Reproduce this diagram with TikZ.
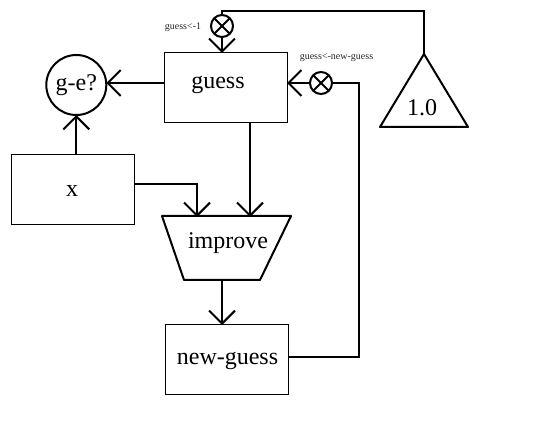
\documentclass[tikz,border=0pt]{standalone}
\usepackage{fontspec}
\setmainfont{Liberation Serif}
\usetikzlibrary{arrows.meta, positioning}

\begin{document}
\begin{tikzpicture}[x=1pt, y=-1pt, >={Straight Barb[length=13pt, width=26pt, line width=2pt]}]

\tikzset{
    store/.style={
        draw=black, line width=1pt, rectangle, inner sep=0pt,
        minimum width=123pt, minimum height=70pt
    },
    bigtext/.style={
        font=\fontsize{24}{28}\selectfont, text=black
    },
    smalltext/.style={
        font=\fontsize{10}{12}\selectfont, text=black!85, inner sep=0pt
    },
    wire/.style={
        draw=black, line width=2pt
    },
    arrowwire/.style={
        wire, ->, shorten >=-1pt
    },
    valve/.style={
        draw=black, line width=2pt, circle, inner sep=0pt, minimum size=22pt,
        path picture={
            \draw[line width=2pt] (path picture bounding box.north west) -- (path picture bounding box.south east);
            \draw[line width=2pt] (path picture bounding box.north east) -- (path picture bounding box.south west);
        }
    }
}

\useasboundingbox (0,0) rectangle (533,422);

% Registers
\node[store, label={[bigtext, xshift=-8pt, yshift=3pt]center:guess}] (guess) at (226,87.5) {};
\node[store, label={[bigtext, xshift=-1pt, yshift=-1pt]center:x}] (x) at (73,189.5) {};
\node[store, label={[bigtext, xshift=0.5pt, yshift=-1pt]center:new-guess}] (newguess) at (227,359.5) {};

% Test
\node[wire, circle, minimum size=60pt, inner sep=0pt, bigtext] (test) at (76.3,85) {\raisebox{-2pt}{g-e?}};

% Operator
\coordinate (improveleft) at (197,216);
\coordinate (improveright) at (250,216);
\coordinate (improveout) at (222,280);
\draw[wire, line join=round] (162,216) -- (291,216) -- (260,280) -- (184,280) -- cycle;
\node[bigtext] (improve) at (228,243) {improve};

% Constant
\coordinate (apex) at (424,54);
\draw[wire, line join=round] (apex) -- (468,127) -- (380,127) -- cycle;
\node[bigtext] (constant) at (422,108) {1.0};

% Valves
\node[valve] (setone) at (222,26) {};
\node[valve] (setnew) at (321,83) {};
\node[smalltext] (setonelabel) at (183,27) {guess<-1};
\node[smalltext] (setnewlabel) at (336.5,58) {guess<-new-guess};

% Connectors
\draw[arrowwire] (guess.west |- 0,83) -- ([yshift=2pt]test.east);
\draw[arrowwire] (test.south |- x.north) -- (test.south);
\draw[arrowwire] ([yshift=5.5pt]x.east) -| (improveleft);
\draw[arrowwire] (improveright |- guess.south) -- (improveright);
\draw[arrowwire] (improveout) -- (improveout |- newguess.north);
\draw[wire] ([yshift=3pt]newguess.east) -| (359,83) -- (setnew.east);
\draw[arrowwire] (setnew.west) -- (guess.east |- setnew);
\draw[wire] (apex) |- (setone.north |- 0,11) -- (setone.north);
\draw[arrowwire] (setone.south) -- (setone.south |- guess.north);

\end{tikzpicture}
\end{document}
